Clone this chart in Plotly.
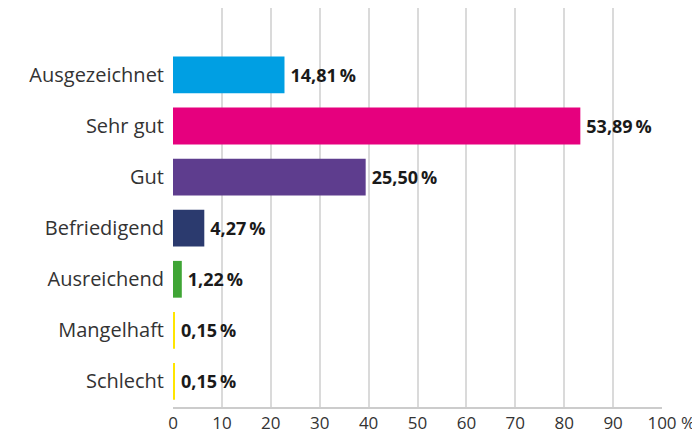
import plotly.graph_objects as go

categories = ["Ausgezeichnet", "Sehr gut", "Gut", "Befriedigend", "Ausreichend", "Mangelhaft", "Schlecht"]
bar_lengths = [22.8, 83.3, 39.4, 6.4, 1.8, 0.35, 0.35]
value_labels = ["14,81", "53,89", "25,50", "4,27", "1,22", "0,15", "0,15"]
colors = ["#009FE3", "#E6007E", "#5E3D8E", "#2B3A6E", "#3FA535", "#FFE500", "#FFE500"]
x_ticks = [0, 10, 20, 30, 40, 50, 60, 70, 80, 90, 100]

font_family = "Open Sans, sans-serif"
positions = list(range(len(categories)))

fig = go.Figure(go.Bar(
    y=positions,
    x=bar_lengths,
    orientation="h",
    marker=dict(color=colors, line=dict(width=0)),
    text=["\u2009" + v + "\u2009%" for v in value_labels],
    textposition="outside",
    cliponaxis=False,
    textfont=dict(family=font_family, size=18, color="#1a1a1a", weight="bold"),
    width=0.72,
))

fig.update_layout(
    width=692, height=426,
    margin=dict(l=165, r=38, t=0, b=27),
    plot_bgcolor="white", paper_bgcolor="white",
    showlegend=False,
    font=dict(family=font_family, color="#333333"),
    xaxis=dict(
        range=[0, 100], tickvals=x_ticks, ticktext=[str(t) for t in x_ticks],
        showgrid=True, gridcolor="#DADADA", gridwidth=1.5,
        zeroline=False, showline=True, linecolor="#CCCCCC", linewidth=1.5,
        ticks="", tickfont=dict(size=17, color="#333333"), automargin=False,
    ),
    yaxis=dict(
        range=[6.5, -1.31], tickvals=positions, ticktext=categories,
        showgrid=False, zeroline=False, showline=False, ticks="",
        ticklabelstandoff=8, automargin=False,
        tickfont=dict(size=20, color="#333333"),
    ),
)
fig.add_annotation(x=100, y=0, xref="x", yref="paper", text="%", showarrow=False,
                   xanchor="left", yanchor="top", xshift=18, yshift=-3,
                   borderpad=0,
                   font=dict(family=font_family, size=17, color="#333333"))

fig.write_html("out.html")
